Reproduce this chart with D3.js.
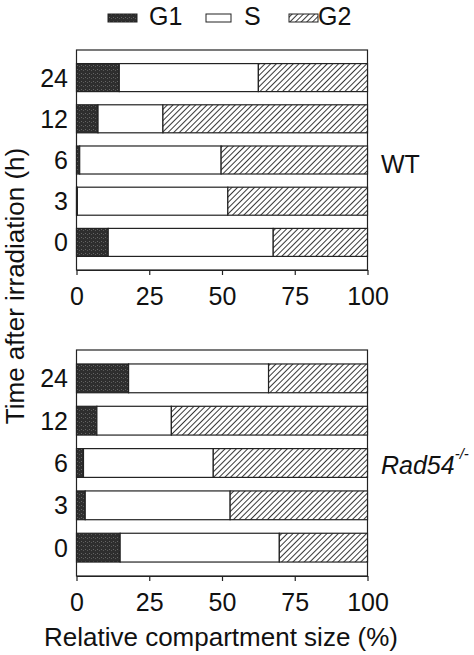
<!DOCTYPE html>
<html>
<head>
<meta charset="utf-8">
<script src="https://cdn.jsdelivr.net/npm/d3@7"></script>
<style>
  body { margin: 0; background: #fff; }
  text { font-family: "Liberation Sans", Arial, sans-serif; fill: #111; }
</style>
</head>
<body>
<div id="chart-container"></div>
<script>
// time points (h), top to bottom
const times = ["24", "12", "6", "3", "0"];
const phases = ["G1", "S", "G2"];
const xTicks = [0, 25, 50, 75, 100];

// WT: G1 and S percentages (G2 is the rest)
const wtG1 = [14.7, 7.4, 1.1, 0.3, 10.9];
const wtS = [47.8, 22.3, 48.6, 51.7, 56.7];
// Rad54-/-
const radG1 = [17.9, 7.0, 2.4, 3.0, 15.0];
const radS = [48.1, 25.6, 44.6, 49.8, 54.7];

const width = 474, height = 655;

const svg = d3.select("#chart-container")
    .append("svg")
    .attr("width", width)
    .attr("height", height);

// patterns for the phases
const defs = svg.append("defs");
const stip = defs.append("pattern")
    .attr("id", "stipple")
    .attr("patternUnits", "userSpaceOnUse")
    .attr("width", 4).attr("height", 4);
stip.append("rect").attr("width", 4).attr("height", 4).attr("fill", "#2e2e2e");
stip.append("rect").attr("x", 1).attr("y", 1).attr("width", 1).attr("height", 1).attr("fill", "#666");
stip.append("rect").attr("x", 3).attr("y", 2).attr("width", 1).attr("height", 1).attr("fill", "#5a5a5a");

const hatch = defs.append("pattern")
    .attr("id", "hatch")
    .attr("patternUnits", "userSpaceOnUse")
    .attr("width", 4).attr("height", 4)
    .attr("patternTransform", "rotate(45)");
hatch.append("rect").attr("width", 4).attr("height", 4).attr("fill", "#fff");
hatch.append("line")
    .attr("x1", 0).attr("y1", 0).attr("x2", 0).attr("y2", 4)
    .attr("stroke", "#222").attr("stroke-width", 1.8);

const fills = { G1: "url(#stipple)", S: "#fff", G2: "url(#hatch)" };

const xScale = d3.scaleLinear().domain([0, 100]).range([76.5, 367.5]);

function drawPanel(g1, s, top, bottom, label, italic) {
    const data = times.map((t, i) => {
        const a = g1[i], b = g1[i] + s[i];
        return { time: t, segs: [
            { phase: "G1", x0: 0, x1: a },
            { phase: "S", x0: a, x1: b },
            { phase: "G2", x0: b, x1: 100 }
        ]};
    });

    const yScale = d3.scaleBand()
        .domain(times)
        .range([top, bottom])
        .paddingInner(0.32)
        .paddingOuter(0.33);

    const g = svg.append("g");

    // frame
    g.append("rect")
        .attr("x", xScale(0))
        .attr("y", top)
        .attr("width", xScale(100) - xScale(0))
        .attr("height", bottom - top)
        .attr("fill", "none")
        .attr("stroke", "#222")
        .attr("stroke-width", 1.2);

    const rows = g.selectAll(".row")
        .data(data)
        .enter()
        .append("g")
        .attr("class", "row");

    rows.selectAll("rect")
        .data(d => d.segs.map(sg => Object.assign({ time: d.time }, sg)))
        .enter()
        .append("rect")
        .attr("x", d => xScale(d.x0))
        .attr("y", d => yScale(d.time))
        .attr("width", d => Math.max(0, xScale(d.x1) - xScale(d.x0)))
        .attr("height", yScale.bandwidth())
        .attr("fill", d => fills[d.phase])
        .attr("stroke", "#222")
        .attr("stroke-width", 1.2);

    // y labels
    g.selectAll(".ylab")
        .data(times)
        .enter()
        .append("text")
        .attr("x", 68)
        .attr("y", d => yScale(d) + yScale.bandwidth() / 2)
        .attr("dy", "0.36em")
        .attr("text-anchor", "end")
        .style("font-size", "25px")
        .text(d => d);

    // x axis
    const axis = g.append("g")
        .attr("transform", "translate(0," + bottom + ")")
        .call(d3.axisBottom(xScale).tickValues(xTicks).tickSize(5).tickPadding(12).tickSizeOuter(0));
    axis.select(".domain").attr("stroke", "#222").attr("stroke-width", 1.2);
    axis.selectAll(".tick line").attr("stroke", "#222").attr("stroke-width", 1.2);
    axis.selectAll(".tick text")
        .style("font-size", "25px")
        .style("font-family", "'Liberation Sans', Arial, sans-serif")
        .attr("fill", "#111");

    // panel label
    const lab = g.append("text")
        .attr("x", 381)
        .attr("y", label.y)
        .style("font-size", "25px");
    if (italic) {
        lab.append("tspan").style("font-style", "italic").text(label.text);
        lab.append("tspan")
            .attr("dy", -15)
            .style("font-size", "15px")
            .style("font-style", "italic")
            .text("-/-");
    } else {
        lab.text(label.text);
    }
}

drawPanel(wtG1, wtS, 50, 270, { text: "WT", y: 173 }, false);
drawPanel(radG1, radS, 350, 576, { text: "Rad54", y: 474 }, true);

// legend
const legendX = [108, 206, 289];
const legendTextX = [149, 244, 318];
const legend = svg.append("g");
phases.forEach((p, i) => {
    legend.append("rect")
        .attr("x", legendX[i])
        .attr("y", 14)
        .attr("width", p === "S" ? 25 : 29)
        .attr("height", 8)
        .attr("fill", fills[p])
        .attr("stroke", "#222")
        .attr("stroke-width", 1);
    legend.append("text")
        .attr("x", legendTextX[i])
        .attr("y", 25)
        .style("font-size", "25px")
        .text(p);
});

// axis titles
svg.append("text")
    .attr("transform", "translate(24,286) rotate(-90)")
    .attr("text-anchor", "middle")
    .style("font-size", "26px")
    .text("Time after irradiation (h)");

svg.append("text")
    .attr("x", 221)
    .attr("y", 646)
    .attr("text-anchor", "middle")
    .style("font-size", "26px")
    .text("Relative compartment size (%)");
</script>
</body>
</html>
